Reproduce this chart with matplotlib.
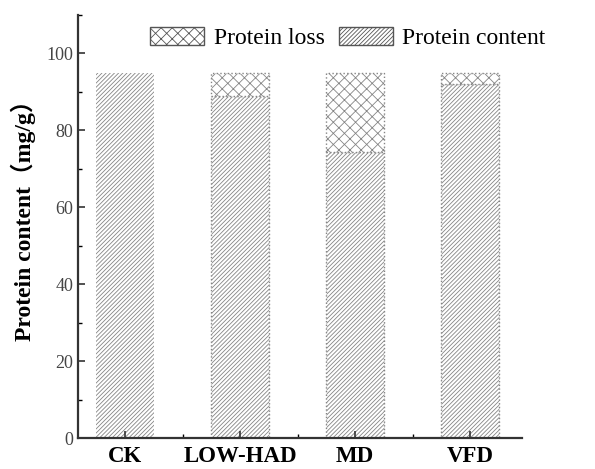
import matplotlib
matplotlib.use("Agg")
import matplotlib.pyplot as plt
from matplotlib.patches import Patch
from matplotlib.ticker import MultipleLocator

categories = ["CK", "LOW-HAD", "MD", "VFD"]
protein_content = [95.0, 89.0, 74.3, 92.0]
protein_total = [95.0, 95.0, 95.0, 95.0]
protein_loss = [t - c for t, c in zip(protein_total, protein_content)]

plt.rcParams["font.family"] = ["Liberation Serif", "Noto Sans CJK SC"]
plt.rcParams["hatch.linewidth"] = 0.6

fig = plt.figure(figsize=(5.95, 4.69), dpi=100)
ax = fig.add_axes([0.131, 0.066, 0.746, 0.902])

x = list(range(len(categories)))
gray = "#858585"
edge = "#555555"
stripes = "/" * 8
cross = "xxx"
for i in x:
    # CK bar is drawn without a visible outline
    lw = 0 if i == 0 else 1.0
    ls = "-" if i == 0 else ":"
    ax.bar(i, protein_content[i], width=0.5, color="white", edgecolor=gray,
           hatch=stripes, linewidth=lw, linestyle=ls)
    if protein_loss[i] > 0:
        ax.bar(i, protein_loss[i], bottom=protein_content[i], width=0.5,
               color="white", edgecolor=gray, hatch=cross, linewidth=lw,
               linestyle=ls)

ax.set_xlim(-0.41, 3.45)
ax.set_ylim(0, 110)
ax.set_xticks(x)
ax.set_xticklabels(categories, fontsize=16.5, fontweight="bold")
ax.set_xticks([0.5, 1.5, 2.5], minor=True)
ax.yaxis.set_major_locator(MultipleLocator(20))
ax.yaxis.set_minor_locator(MultipleLocator(10))
ax.tick_params(direction="in", which="major", length=5, width=1.2,
               colors="#333333")
ax.tick_params(direction="in", which="minor", length=3, width=1.0)
ax.tick_params(axis="y", labelsize=13, labelcolor="#444444")
ax.tick_params(axis="x", pad=6, labelcolor="black")

for s in ["top", "right"]:
    ax.spines[s].set_visible(False)
for s in ["left", "bottom"]:
    ax.spines[s].set_linewidth(1.6)
    ax.spines[s].set_color("#333333")

ax.set_ylabel("Protein content（mg/g）", fontsize=17, fontweight="bold")
ax.yaxis.set_label_coords(-0.095, 0.528)

handles = [
    Patch(facecolor="white", edgecolor=edge, hatch=cross, linewidth=1.0),
    Patch(facecolor="white", edgecolor=edge, hatch=stripes, linewidth=1.0),
]
ax.legend(handles, ["Protein loss", "Protein content"], ncol=2,
          loc="center", bbox_to_anchor=(0.608, 0.946), frameon=False,
          fontsize=17, handlelength=2.3, handleheight=0.85, columnspacing=0.6,
          handletextpad=0.4, borderpad=0.2)

fig.savefig("out.png", dpi=100)
